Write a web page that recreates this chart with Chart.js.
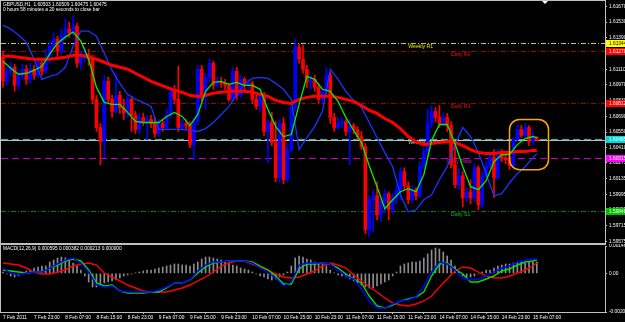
<!DOCTYPE html>
<html>
<head>
<meta charset="utf-8">
<script src="https://cdn.jsdelivr.net/npm/chart.js@4/dist/chart.umd.min.js"></script>
<style>
  html, body { margin: 0; padding: 0; background: #000; }
  #wrap { position: relative; width: 625px; height: 322px; overflow: hidden; background: #000; }
  #priceChart { position: absolute; left: 0; top: 0; }
  #macdChart { position: absolute; left: 0; top: 244px; }
</style>
</head>
<body>
<div id="wrap">
  <canvas id="priceChart" width="625" height="244"></canvas>
  <canvas id="macdChart" width="625" height="78"></canvas>
</div>
<script>
// GBPUSD H1 candles (oldest first)
const opens = [
  1.61217, 1.61002, 1.61092, 1.61127, 1.60966, 1.61056, 1.61110, 1.61020, 1.61110, 1.61056,
  1.61163, 1.61092, 1.61199, 1.61324, 1.61378, 1.61271, 1.61414, 1.61468, 1.61432, 1.61494,
  1.61163, 1.61217, 1.61244, 1.61199, 1.60841, 1.60590, 1.60465, 1.61002, 1.60841, 1.60734,
  1.60877, 1.60769, 1.60716, 1.60841, 1.60698, 1.60573, 1.60680, 1.60644, 1.60662, 1.60626,
  1.60537, 1.60626, 1.60590, 1.60698, 1.60913, 1.60841, 1.60590, 1.60626, 1.60608, 1.60438,
  1.60644, 1.61110, 1.60859, 1.61038, 1.61163, 1.60966, 1.61002, 1.60984, 1.60966, 1.60841,
  1.61092, 1.60877, 1.61020, 1.60966, 1.60984, 1.60841, 1.60778, 1.60886, 1.60555, 1.60635,
  1.60456, 1.60143, 1.60626, 1.60125, 1.60394, 1.60769, 1.61306, 1.61199, 1.61110, 1.60993,
  1.61020, 1.60948, 1.60841, 1.60913, 1.61056, 1.60680, 1.60590, 1.60626, 1.60644, 1.60555,
  1.60608, 1.60573, 1.60510, 1.60420, 1.59678, 1.59946, 1.59982, 1.59812, 1.59928, 1.60000,
  1.59857, 1.59964, 1.60036, 1.60197, 1.60071, 1.59946, 1.60036, 1.59982, 1.60250, 1.60376,
  1.60626, 1.60734, 1.60680, 1.60626, 1.60680, 1.60608, 1.60259, 1.60080, 1.60161, 1.59964,
  1.60018, 1.59964, 1.60232, 1.59901, 1.60161, 1.60250, 1.60322, 1.60143, 1.60358, 1.60322,
  1.60304, 1.60250, 1.60483, 1.60573, 1.60519, 1.60590, 1.60465, 1.60503
];
const highs = [
  1.61271, 1.61127, 1.61172, 1.61154, 1.61092, 1.61154, 1.61145, 1.61163, 1.61145, 1.61217,
  1.61199, 1.61289, 1.61360, 1.61432, 1.61405, 1.61468, 1.61557, 1.61530, 1.61584, 1.61521,
  1.61271, 1.61306, 1.61289, 1.61235, 1.60877, 1.60626, 1.61056, 1.61038, 1.60877, 1.61074,
  1.60913, 1.60841, 1.60877, 1.60868, 1.60734, 1.60716, 1.60716, 1.60698, 1.60698, 1.60680,
  1.60662, 1.60662, 1.60752, 1.60948, 1.60966, 1.61136, 1.60662, 1.60662, 1.60644, 1.60680,
  1.61145, 1.61145, 1.61074, 1.61199, 1.61181, 1.61038, 1.61038, 1.61020, 1.60984, 1.61127,
  1.61127, 1.61056, 1.61038, 1.61020, 1.61002, 1.60877, 1.60913, 1.60904, 1.60662, 1.60725,
  1.60644, 1.60662, 1.60680, 1.60438, 1.60805, 1.61378, 1.61333, 1.61324, 1.61145, 1.61056,
  1.61056, 1.60984, 1.60948, 1.61127, 1.61083, 1.60716, 1.60680, 1.60680, 1.60662, 1.60662,
  1.60626, 1.60599, 1.60555, 1.60447, 1.59982, 1.60036, 1.60107, 1.59964, 1.60036, 1.60018,
  1.60000, 1.60080, 1.60232, 1.60232, 1.60107, 1.60071, 1.60053, 1.60286, 1.60411, 1.60752,
  1.60787, 1.60769, 1.60787, 1.60716, 1.60716, 1.60644, 1.60465, 1.60232, 1.60197, 1.60053,
  1.60125, 1.60268, 1.60250, 1.60197, 1.60286, 1.60358, 1.60394, 1.60394, 1.60394, 1.60358,
  1.60340, 1.60501, 1.60608, 1.60608, 1.60626, 1.60608, 1.60555, 1.60509
];
const lows = [
  1.60948, 1.60966, 1.61056, 1.60913, 1.60931, 1.61020, 1.60975, 1.60984, 1.61020, 1.61038,
  1.61056, 1.61074, 1.61163, 1.61289, 1.61217, 1.61244, 1.61378, 1.61396, 1.61414, 1.61127,
  1.61110, 1.61181, 1.61145, 1.60805, 1.60555, 1.60259, 1.60322, 1.60805, 1.60680, 1.60716,
  1.60716, 1.60662, 1.60680, 1.60555, 1.60537, 1.60537, 1.60608, 1.60483, 1.60590, 1.60501,
  1.60510, 1.60555, 1.60573, 1.60680, 1.60805, 1.60555, 1.60564, 1.60573, 1.60411, 1.60304,
  1.60617, 1.60823, 1.60752, 1.61002, 1.60931, 1.60948, 1.60948, 1.60931, 1.60823, 1.60823,
  1.60841, 1.60859, 1.60913, 1.60931, 1.60805, 1.60752, 1.60734, 1.60519, 1.60277, 1.60429,
  1.60107, 1.60098, 1.60089, 1.60107, 1.60376, 1.60734, 1.61163, 1.61074, 1.60948, 1.60931,
  1.60913, 1.60805, 1.60805, 1.60886, 1.60626, 1.60555, 1.60573, 1.60590, 1.60519, 1.60259,
  1.60537, 1.60483, 1.60394, 1.59642, 1.59615, 1.59660, 1.59767, 1.59749, 1.59839, 1.59767,
  1.59821, 1.59910, 1.59946, 1.60036, 1.59910, 1.59919, 1.59946, 1.59964, 1.60215, 1.60322,
  1.60590, 1.60644, 1.60590, 1.60608, 1.60555, 1.60232, 1.60053, 1.60036, 1.59883, 1.59928,
  1.59910, 1.59928, 1.59857, 1.59874, 1.60143, 1.60232, 1.59964, 1.60125, 1.60286, 1.60268,
  1.60215, 1.60232, 1.60465, 1.60501, 1.60501, 1.60429, 1.60438, 1.60475
];
const closes = [
  1.61002, 1.61092, 1.61127, 1.60966, 1.61056, 1.61110, 1.61020, 1.61110, 1.61056, 1.61163,
  1.61092, 1.61199, 1.61324, 1.61378, 1.61271, 1.61414, 1.61468, 1.61432, 1.61494, 1.61163,
  1.61217, 1.61244, 1.61199, 1.60841, 1.60590, 1.60465, 1.61002, 1.60841, 1.60734, 1.60877,
  1.60769, 1.60716, 1.60841, 1.60698, 1.60573, 1.60680, 1.60644, 1.60662, 1.60626, 1.60537,
  1.60626, 1.60590, 1.60698, 1.60913, 1.60841, 1.60590, 1.60626, 1.60608, 1.60438, 1.60644,
  1.61110, 1.60859, 1.61038, 1.61163, 1.60966, 1.61002, 1.60984, 1.60966, 1.60841, 1.61092,
  1.60877, 1.61020, 1.60966, 1.60984, 1.60841, 1.60778, 1.60886, 1.60555, 1.60635, 1.60456,
  1.60143, 1.60626, 1.60125, 1.60394, 1.60769, 1.61306, 1.61199, 1.61110, 1.60993, 1.61020,
  1.60948, 1.60841, 1.60913, 1.61056, 1.60680, 1.60590, 1.60626, 1.60644, 1.60555, 1.60608,
  1.60573, 1.60510, 1.60420, 1.59678, 1.59946, 1.59982, 1.59812, 1.59928, 1.60000, 1.59857,
  1.59964, 1.60036, 1.60197, 1.60071, 1.59946, 1.60036, 1.59982, 1.60250, 1.60376, 1.60626,
  1.60734, 1.60680, 1.60626, 1.60680, 1.60608, 1.60259, 1.60080, 1.60161, 1.59964, 1.60018,
  1.59964, 1.60232, 1.59901, 1.60161, 1.60250, 1.60322, 1.60143, 1.60358, 1.60322, 1.60304,
  1.60250, 1.60483, 1.60573, 1.60519, 1.60590, 1.60465, 1.60503, 1.60475
];

// indicator lines, sampled every second bar plus the last bar
const greenMA = [
  1.61181, 1.61118, 1.61065, 1.61074, 1.61100, 1.61136, 1.61244, 1.61342, 1.61396, 1.61441,
  1.61360, 1.61199, 1.60948, 1.60814, 1.60796, 1.60796, 1.60725, 1.60644, 1.60635, 1.60635,
  1.60635, 1.60689, 1.60725, 1.60689, 1.60608, 1.60707, 1.60913, 1.60993, 1.61002, 1.60975,
  1.60993, 1.60966, 1.60966, 1.60931, 1.60752, 1.60599, 1.60510, 1.60528, 1.60796, 1.61047,
  1.61020, 1.60931, 1.60913, 1.60823, 1.60680, 1.60564, 1.60456, 1.60250, 1.60063, 1.59866,
  1.59946, 1.60018, 1.60045, 1.60018, 1.60170, 1.60474, 1.60617, 1.60617, 1.60447, 1.60241,
  1.60063, 1.60036, 1.60116, 1.60286, 1.60349, 1.60349, 1.60438, 1.60492, 1.60510, 1.60501
];
const redMA = [
  1.61226, 1.61226, 1.61217, 1.61208, 1.61199, 1.61199, 1.61199, 1.61208, 1.61217, 1.61235,
  1.61235, 1.61217, 1.61199, 1.61172, 1.61145, 1.61127, 1.61110, 1.61074, 1.61038, 1.61002,
  1.60975, 1.60948, 1.60922, 1.60904, 1.60877, 1.60868, 1.60877, 1.60895, 1.60904, 1.60913,
  1.60913, 1.60913, 1.60904, 1.60886, 1.60868, 1.60832, 1.60814, 1.60805, 1.60841, 1.60859,
  1.60868, 1.60868, 1.60868, 1.60859, 1.60841, 1.60823, 1.60787, 1.60743, 1.60716, 1.60671,
  1.60635, 1.60581, 1.60510, 1.60465, 1.60438, 1.60447, 1.60456, 1.60465, 1.60456, 1.60429,
  1.60394, 1.60367, 1.60358, 1.60358, 1.60367, 1.60367, 1.60376, 1.60376, 1.60385, 1.60385
];
const blueLine = [
  1.61503, 1.61468, 1.61414, 1.61351, 1.61199, 1.61020, 1.61047, 1.61065, 1.61127, 1.61315,
  1.61450, 1.61450, 1.61405, 1.61253, 1.61100, 1.60984, 1.60886, 1.60841, 1.60814, 1.60778,
  1.60573, 1.60573, 1.60573, 1.60573, 1.60564, 1.60555, 1.60581, 1.60635, 1.60707, 1.60778,
  1.60886, 1.60975, 1.61029, 1.61038, 1.61029, 1.60984, 1.60931, 1.60841, 1.60394, 1.60501,
  1.60599, 1.60734, 1.61110, 1.61020, 1.60913, 1.60832, 1.60769, 1.60635, 1.60501, 1.60367,
  1.60241, 1.59991, 1.59839, 1.59857, 1.59946, 1.59991, 1.60125, 1.60241, 1.60438, 1.60590,
  1.60510, 1.60367, 1.60179, 1.59982, 1.60000, 1.60098, 1.60179, 1.60241, 1.60322, 1.60358
];

// MACD(12,26,9) sub-window
const macdHist = [
  0.000075, -0.000032, -0.000139, -0.000192, -0.000139, -0.000032, 0.000128, 0.000182, 0.000288, 0.000342,
  0.000395, 0.000395, 0.000608, 0.000715, 0.000822, 0.000875, 0.000822, 0.000715, 0.000555, 0.000395,
  0.000182, -0.000139, -0.000459, -0.000725, -0.000725, -0.000619, -0.000512, -0.000459, -0.000405, -0.000352,
  -0.000245, -0.000139, -0.000085, -0.000032, 0.000021, 0.000075, 0.000128, 0.000182, 0.000182, 0.000235,
  0.000288, 0.000342, 0.000395, 0.000448, 0.000502, 0.000502, 0.000448, 0.000448, 0.000395, 0.000502,
  0.000608, 0.000768, 0.000875, 0.000875, 0.000822, 0.000768, 0.000715, 0.000608, 0.000555, 0.000448,
  0.000395, 0.000288, 0.000235, 0.000182, 0.000075, -0.000032, -0.000139, -0.000192, -0.000299, -0.000352,
  -0.000299, -0.000192, -0.000085, 0.000075, 0.000395, 0.000822, 0.000929, 0.000875, 0.000768, 0.000715,
  0.000608, 0.000555, 0.000502, 0.000395, 0.000182, 0.000021, -0.000085, -0.000139, -0.000192, -0.000299,
  -0.000405, -0.000512, -0.000619, -0.000725, -0.000779, -0.000779, -0.000672, -0.000565, -0.000459, -0.000352,
  -0.000139, 0.000075, 0.000395, 0.000502, 0.000555, 0.000608, 0.000608, 0.000662, 0.000822, 0.001035,
  0.001249, 0.001355, 0.001302, 0.001142, 0.000929, 0.000715, 0.000395, 0.000075, -0.000139, -0.000192,
  -0.000192, -0.000139, -0.000032, 0.000075, 0.000182, 0.000182, 0.000288, 0.000395, 0.000448, 0.000502,
  0.000502, 0.000555, 0.000608, 0.000608, 0.000555, 0.000608, 0.000608, 0.000608
];
const macdRed = [
  0.000555, 0.000502, 0.000448, 0.000288, 0.000075, -0.000032, -0.000032, 0.000075, 0.000182, 0.000395,
  0.000502, 0.000555, 0.000448, 0.000021, -0.000192, -0.000405, -0.000619, -0.000779, -0.000939, -0.000992,
  -0.000992, -0.000992, -0.000885, -0.000779, -0.000619, -0.000405, -0.000192, 0.000075, 0.000395, 0.000555,
  0.000662, 0.000662, 0.000502, 0.000342, 0.000182, -0.000032, -0.000192, -0.000245, -0.000192, -0.000032,
  0.000128, 0.000395, 0.000555, 0.000448, 0.000288, -0.000085, -0.000405, -0.000725, -0.000992, -0.001312,
  -0.001579, -0.001686, -0.001739, -0.001632, -0.001472, -0.001206, -0.000725, -0.000299, 0.000128, 0.000342,
  0.000288, 0.000075, -0.000139, -0.000245, -0.000245, -0.000139, 0.000021, 0.000182, 0.000395, 0.000555
];
const macdBlue = [
  0.000288, 0.000021, -0.000085, 0.000021, 0.000075, 0.000075, 0.000288, 0.000502, 0.000715, 0.000822,
  0.000555, 0.000075, -0.000619, -0.000725, -0.000672, -0.000939, -0.000992, -0.000992, -0.000992, -0.000992,
  -0.000885, -0.000725, -0.000512, -0.000512, -0.000352, 0.000128, 0.000448, 0.000608, 0.000608, 0.000662,
  0.000662, 0.000662, 0.000555, 0.000288, 0.000021, -0.000245, -0.000672, -0.000459, 0.000448, 0.000555,
  0.000555, 0.000555, 0.000502, 0.000182, -0.000139, -0.000299, -0.000832, -0.001472, -0.001846, -0.001846,
  -0.001632, -0.001472, -0.001419, -0.001259, -0.000672, 0.000075, 0.000608, 0.000502, 0.000182, -0.000245,
  -0.000352, -0.000299, -0.000139, 0.000075, 0.000288, 0.000395, 0.000608, 0.000715, 0.000768, 0.000768
];
const macdGreen = [
  0.000182, 0.000128, 0.000075, 0.000021, 0.000075, 0.000075, 0.000288, 0.000448, 0.000662, 0.000768,
  0.000662, 0.000182, -0.000512, -0.000672, -0.000619, -0.000939, -0.001046, -0.001046, -0.001046, -0.000992,
  -0.000992, -0.000779, -0.000512, -0.000512, -0.000352, 0.000021, 0.000342, 0.000555, 0.000608, 0.000662,
  0.000662, 0.000662, 0.000608, 0.000395, 0.000182, -0.000139, -0.000565, -0.000565, 0.000235, 0.000502,
  0.000502, 0.000555, 0.000502, 0.000288, -0.000032, -0.000299, -0.000512, -0.001206, -0.001739, -0.001846,
  -0.001686, -0.001472, -0.001366, -0.001259, -0.000992, -0.000139, 0.000502, 0.000555, 0.000235, -0.000032,
  -0.000459, -0.000459, -0.000299, -0.000139, 0.000128, 0.000235, 0.000448, 0.000608, 0.000662, 0.000715
];

// axis texts
const priceTicks = [1.61670, 1.61530, 1.61390, 1.61250, 1.61110, 1.60970, 1.60830, 1.60690,
  1.60550, 1.60410, 1.60275, 1.60135, 1.59995, 1.59855, 1.59715, 1.59575];
const macdTicks = [0.001462, 0, -0.002059];
const xTickLabels = ['7 Feb 2011', '7 Feb 23:00', '8 Feb 07:00', '8 Feb 15:00', '8 Feb 23:00',
  '9 Feb 07:00', '9 Feb 15:00', '9 Feb 23:00', '10 Feb 07:00', '10 Feb 15:00', '10 Feb 23:00',
  '11 Feb 07:00', '11 Feb 15:00', '11 Feb 23:00', '14 Feb 07:00', '14 Feb 15:00', '14 Feb 23:00',
  '15 Feb 07:00'];
const xTickEvery = 8;

// pivot levels
const levelNames = ['Weekly R1', 'Daily R2', 'Daily R1', 'Weekly Pivot', 'Daily Pivot', 'Daily S1'];
const levelValues = [1.61344, 1.61270, 1.60812, 1.60485, 1.60315, 1.59848];
const bidPrice = 1.60475;
const headerLine1 = 'GBPUSD,H1  1.60503 1.60509 1.60475 1.60475';
const headerLine2 = '0 hours 58 minutes a 20 seconds to close bar';
const macdTitle = 'MACD(12,26,9) 0.000595 0.000382 0.000213 0.000000';

// ---- styling / layout ----
const slotCount = 155;           // bars + empty shift area on the right
const levelStyles = [
  { line: '#d2d200', dash: [5, 2, 1, 2], text: '#e6e600', box: '#ffff00', boxText: '#000', atBar: 104 },
  { line: '#a00000', dash: [5, 2, 1, 2], text: '#f01010', box: '#ff0000', boxText: '#fff', atBar: 115 },
  { line: '#a00000', dash: [5, 2, 1, 2], text: '#f01010', box: '#ff0000', boxText: '#fff', atBar: 115 },
  { line: '#00c0c0', dash: [7, 4], text: '#b8dce8', box: '#00d8d8', boxText: '#fff', atBar: 104 },
  { line: '#c000c0', dash: [7, 4], text: '#e020e0', box: '#ff00ff', boxText: '#fff', atBar: 114 },
  { line: '#008000', dash: [5, 2, 1, 2], text: '#10c010', box: '#00c000', boxText: '#fff', atBar: 115 }
];
const focusMark = { fromBar: 130, toBar: 140, top: 1.60662, bottom: 1.60215, color: '#ffa500' };
const FONT = "'Liberation Sans', Arial, sans-serif";
const TXT = 4.8;
const LABEL_TXT = 5.2;
const FRAME = '#c0c0c0';

Chart.defaults.font.family = FONT;
Chart.defaults.color = '#ffffff';

// hourly bar times, weekend skipped
const barTimes = [];
(function () {
  let t = Date.UTC(2011, 1, 7, 15);
  while (barTimes.length < slotCount) {
    const d = new Date(t);
    const wd = d.getUTCDay();
    if (wd !== 0 && wd !== 6) {
      barTimes.push(d.getUTCDate() + ' Feb ' + String(d.getUTCHours()).padStart(2, '0') + ':00');
    }
    t += 3600000;
  }
})();

// sampled lines sit on every second bar and on the last one
const sampleIdx = [];
for (let i = 0; i < closes.length; i += 2) sampleIdx.push(i);
sampleIdx.push(closes.length - 1);
function placeSamples(samples) {
  const out = new Array(closes.length).fill(null);
  samples.forEach((v, k) => { out[sampleIdx[k]] = v; });
  return out;
}

const candleColor = i => (closes[i] >= opens[i] ? '#0000ff' : '#ff0000');
const bodies = opens.map((o, i) => [o, closes[i]]);
const wicks = lows.map((l, i) => [l, highs[i]]);

function lineSet(label, data, color, width) {
  return { type: 'line', label, data, borderColor: color, borderWidth: width,
    pointRadius: 0, spanGaps: true, tension: 0, fill: false, order: 0 };
}

function flatPadding(s) { s.paddingLeft = 0; s.paddingRight = 0; s.paddingTop = 0; s.paddingBottom = 0; }

const pricePlugin = {
  id: 'pricePlugin',
  beforeDatasetsDraw(chart) {
    const { ctx, chartArea: a, scales: { x, y } } = chart;
    ctx.save();
    ctx.beginPath();
    ctx.rect(a.left, a.top, a.right - a.left, a.bottom - a.top);
    ctx.clip();
    ctx.lineWidth = 1;
    levelValues.forEach((v, k) => {
      const py = Math.round(y.getPixelForValue(v)) + 0.5;
      ctx.strokeStyle = levelStyles[k].line;
      ctx.setLineDash(levelStyles[k].dash);
      ctx.beginPath(); ctx.moveTo(a.left, py); ctx.lineTo(a.right, py); ctx.stroke();
    });
    ctx.setLineDash([]);
    ctx.strokeStyle = FRAME;
    const by = Math.round(y.getPixelForValue(bidPrice)) + 0.5;
    ctx.beginPath(); ctx.moveTo(a.left, by); ctx.lineTo(a.right, by); ctx.stroke();

    ctx.font = LABEL_TXT + 'px ' + FONT;
    ctx.textBaseline = 'top';
    ctx.textAlign = 'left';
    levelNames.forEach((name, k) => {
      ctx.fillStyle = levelStyles[k].text;
      ctx.fillText(name, x.getPixelForValue(levelStyles[k].atBar), y.getPixelForValue(levelValues[k]) + 1);
    });
    ctx.restore();
  },
  afterDatasetsDraw(chart) {
    const { ctx, scales: { x, y } } = chart;
    const l = x.getPixelForValue(focusMark.fromBar), r = x.getPixelForValue(focusMark.toBar);
    const t = y.getPixelForValue(focusMark.top), b = y.getPixelForValue(focusMark.bottom);
    const rad = 10;
    ctx.save();
    ctx.strokeStyle = focusMark.color;
    ctx.lineWidth = 1.5;
    ctx.beginPath();
    ctx.moveTo(l + rad, t);
    ctx.lineTo(r - rad, t); ctx.arcTo(r, t, r, t + rad, rad);
    ctx.lineTo(r, b - rad); ctx.arcTo(r, b, r - rad, b, rad);
    ctx.lineTo(l + rad, b); ctx.arcTo(l, b, l, b - rad, rad);
    ctx.lineTo(l, t + rad); ctx.arcTo(l, t, l + rad, t, rad);
    ctx.closePath();
    ctx.stroke();
    ctx.restore();
  },
  afterDraw(chart) {
    const { ctx, chartArea: a, scales: { y } } = chart;
    ctx.save();
    ctx.fillStyle = FRAME;
    ctx.fillRect(0, 0, a.right + 1, 1);
    ctx.fillRect(0, 0, 1, chart.height);
    ctx.fillRect(0, a.bottom, a.right + 1, 1);
    // level price boxes on the right axis
    ctx.font = TXT + 'px ' + FONT;
    ctx.textBaseline = 'middle';
    ctx.textAlign = 'left';
    levelValues.forEach((v, k) => {
      const py = Math.round(y.getPixelForValue(v)) + 0.5;
      ctx.fillStyle = levelStyles[k].box;
      ctx.fillRect(a.right + 1, py - 3.5, chart.width - a.right - 1, 7);
      ctx.fillStyle = levelStyles[k].boxText;
      ctx.fillText(v.toFixed(5), a.right + 4, py + 0.5);
    });
    // chart shift marker
    ctx.fillStyle = '#ffffff';
    ctx.beginPath(); ctx.moveTo(542, 1); ctx.lineTo(548, 1); ctx.lineTo(545, 4); ctx.closePath(); ctx.fill();
    // header
    ctx.fillStyle = '#ffffff';
    ctx.textBaseline = 'top';
    ctx.fillText(headerLine1, 3, 2.5);
    ctx.fillText(headerLine2, 3, 7.5);
    ctx.restore();
  }
};

new Chart(document.getElementById('priceChart'), {
  type: 'bar',
  data: {
    labels: barTimes,
    datasets: [
      lineSet('Fast MA', placeSamples(greenMA), '#00f000', 1.3),
      lineSet('Slow MA', placeSamples(redMA), '#ff0000', 3),
      lineSet('Band', placeSamples(blueLine), '#1a35ff', 1.3),
      { label: 'Body', data: bodies, backgroundColor: c => candleColor(c.dataIndex),
        barThickness: 3, grouped: false, borderWidth: 0, minBarLength: 1, order: 1 },
      { label: 'Wick', data: wicks, backgroundColor: c => candleColor(c.dataIndex),
        barThickness: 1, grouped: false, borderWidth: 0, order: 2 }
    ]
  },
  options: {
    responsive: false, animation: false, events: [], devicePixelRatio: 1,
    layout: { padding: { left: 1, top: 1, right: 0, bottom: 1 } },
    plugins: { legend: { display: false }, tooltip: { enabled: false } },
    scales: {
      x: { display: false, offset: true, afterFit: flatPadding },
      y: {
        position: 'right', min: 1.59561, max: 1.61718, bounds: 'data',
        afterBuildTicks(s) { s.ticks = priceTicks.map(v => ({ value: v })); },
        afterFit(s) { s.width = 20; flatPadding(s); },
        ticks: { color: '#ffffff', font: { size: TXT }, padding: 2, callback: v => v.toFixed(5) },
        grid: { display: true, drawOnChartArea: false, drawTicks: true, tickLength: 2, color: FRAME },
        border: { display: true, color: FRAME, width: 1 }
      }
    }
  },
  plugins: [pricePlugin]
});

const macdPlugin = {
  id: 'macdPlugin',
  afterDraw(chart) {
    const { ctx, chartArea: a } = chart;
    ctx.save();
    ctx.fillStyle = FRAME;
    ctx.fillRect(0, 0, a.right + 1, 1);
    ctx.fillRect(0, 0, 1, a.bottom + 1);
    ctx.fillStyle = '#ffffff';
    ctx.font = TXT + 'px ' + FONT;
    ctx.textBaseline = 'middle';
    ctx.fillText(macdTitle, 3, 5);
    ctx.restore();
  }
};

new Chart(document.getElementById('macdChart'), {
  type: 'bar',
  data: {
    labels: barTimes,
    datasets: [
      lineSet('MACD', placeSamples(macdBlue), '#0000ff', 1.4),
      lineSet('Fast', placeSamples(macdGreen), '#00e000', 1.4),
      lineSet('Signal', placeSamples(macdRed), '#ff0000', 1.4),
      { label: 'Histogram', data: macdHist, backgroundColor: '#8c8c8c', barThickness: 1,
        grouped: false, borderWidth: 0, order: 1 }
    ]
  },
  options: {
    responsive: false, animation: false, events: [], devicePixelRatio: 1,
    layout: { padding: { left: 1, top: 2, right: 0, bottom: 0 } },
    plugins: { legend: { display: false }, tooltip: { enabled: false } },
    scales: {
      x: {
        offset: true,
        afterBuildTicks(s) { s.ticks = xTickLabels.map((t, k) => ({ value: k * xTickEvery })); },
        afterFit(s) { s.height = 10; flatPadding(s); },
        ticks: { autoSkip: false, maxRotation: 0, minRotation: 0, align: 'start', padding: 1,
          color: '#ffffff', font: { size: TXT }, callback: (v, k) => xTickLabels[k] },
        grid: { display: true, drawOnChartArea: false, drawTicks: true, tickLength: 2, color: FRAME },
        border: { display: true, color: FRAME, width: 1 }
      },
      y: {
        position: 'right', min: macdTicks[2], max: macdTicks[0], bounds: 'data',
        afterBuildTicks(s) { s.ticks = macdTicks.map(v => ({ value: v })); },
        afterFit(s) { s.width = 20; flatPadding(s); },
        ticks: { color: '#ffffff', font: { size: TXT }, padding: 2,
          callback: v => (v === 0 ? '0.00' : v.toFixed(6)) },
        grid: { display: true, drawOnChartArea: false, drawTicks: true, tickLength: 2, color: FRAME },
        border: { display: true, color: FRAME, width: 1 }
      }
    }
  },
  plugins: [macdPlugin]
});
</script>
</body>
</html>
